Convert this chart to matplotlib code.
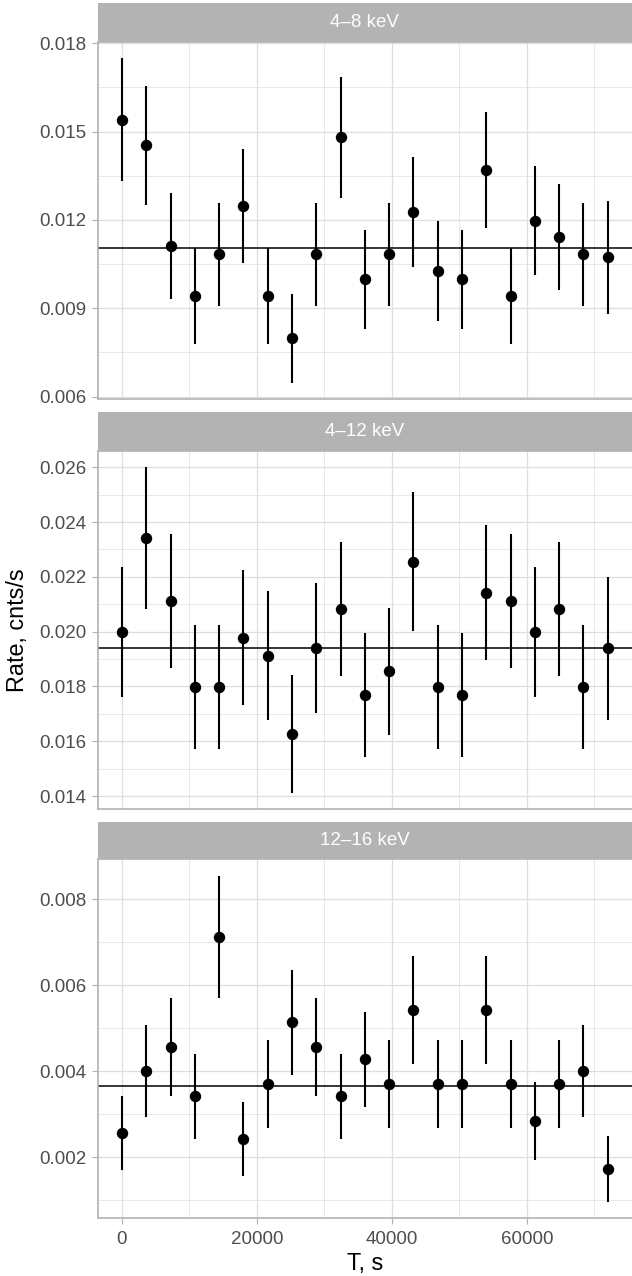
import matplotlib

matplotlib.use('Agg')
import matplotlib.pyplot as plt
from matplotlib.ticker import MultipleLocator, FormatStrFormatter

plt.rcParams['font.family'] = ['Liberation Sans', 'DejaVu Sans']

# time bins, s
time_s = [0, 3600, 7200, 10800, 14400, 18000, 21600, 25200, 28800, 32400, 36000,
          39600, 43200, 46800, 50400, 54000, 57600, 61200, 64800, 68400, 72000]

band_labels = ['4\u20138 keV', '4\u201312 keV', '12\u201316 keV']

rate_4_8 = [0.01540, 0.01453, 0.01112, 0.00941, 0.01083, 0.01247, 0.00941, 0.00798,
            0.01083, 0.01481, 0.00999, 0.01083, 0.01227, 0.01027, 0.00999, 0.01369,
            0.00941, 0.01198, 0.01141, 0.01083, 0.01073]
err_4_8 = [0.00209, 0.00203, 0.00179, 0.00164, 0.00175, 0.00194, 0.00164, 0.00151,
           0.00175, 0.00205, 0.00168, 0.00175, 0.00186, 0.00170, 0.00168, 0.00197,
           0.00164, 0.00184, 0.00180, 0.00175, 0.00191]
mean_4_8 = 0.01106

rate_4_12 = [0.01998, 0.02341, 0.02112, 0.01798, 0.01798, 0.01978, 0.01912, 0.01627,
             0.01939, 0.02084, 0.01768, 0.01855, 0.02256, 0.01798, 0.01768, 0.02142,
             0.02112, 0.01998, 0.02084, 0.01798, 0.01939]
err_4_12 = [0.00238, 0.00259, 0.00246, 0.00227, 0.00227, 0.00247, 0.00235, 0.00215,
            0.00237, 0.00245, 0.00226, 0.00231, 0.00254, 0.00227, 0.00226, 0.00247,
            0.00246, 0.00238, 0.00245, 0.00227, 0.00260]
mean_4_12 = 0.01941

rate_12_16 = [0.002564, 0.00400, 0.004567, 0.003418, 0.007135, 0.002432, 0.003713,
              0.005141, 0.004567, 0.003418, 0.004279, 0.003713, 0.005428, 0.003713,
              0.003713, 0.005428, 0.003713, 0.002851, 0.003713, 0.00400, 0.001734]
err_12_16 = [0.00086, 0.00107, 0.00114, 0.00099, 0.00142, 0.00086, 0.00103, 0.00122,
             0.00114, 0.00099, 0.00110, 0.00103, 0.00125, 0.00103, 0.00103, 0.00125,
             0.00103, 0.00090, 0.00103, 0.00107, 0.00077]
mean_12_16 = 0.003659

y_steps = [0.003, 0.002, 0.002]

W, H = 632, 1276
GREY70 = '#B3B3B3'
GREY87 = '#DEDEDE'
GREY30 = '#4D4D4D'

fig = plt.figure(figsize=(W / 100, H / 100), dpi=100)


def fx(px):
    return px / W


def fy(px):
    return 1 - px / H


left = 97.7
right = 632
# (strip top, strip bottom / panel top, panel bottom) in pixels from top
layout = [(3, 42, 399), (412.3, 451, 809), (822, 859.3, 1218.3)]
series = [(rate_4_8, err_4_8, mean_4_8),
          (rate_4_12, err_4_12, mean_4_12),
          (rate_12_16, err_12_16, mean_12_16)]

for i, ((s_top, p_top, p_bot), (rate, err, mean)) in enumerate(zip(layout, series)):
    ax = fig.add_axes([fx(left), fy(p_bot), fx(right - left), (p_bot - p_top) / H])
    ax.errorbar(time_s, rate, yerr=err, fmt='o', color='black', ms=7.2,
                elinewidth=1.5, capsize=0, zorder=3)
    ax.axhline(mean, color='black', lw=1.1, zorder=2)
    ax.margins(x=0.05, y=0.05)

    ax.xaxis.set_major_locator(MultipleLocator(20000))
    ax.xaxis.set_minor_locator(MultipleLocator(10000))
    ax.yaxis.set_major_locator(MultipleLocator(y_steps[i]))
    ax.yaxis.set_minor_locator(MultipleLocator(y_steps[i] / 2))
    ax.yaxis.set_major_formatter(FormatStrFormatter('%.3f'))

    ax.grid(which='major', color=GREY87, lw=0.9)
    ax.grid(which='minor', color=GREY87, lw=0.5)
    ax.set_axisbelow(True)
    for sp in ax.spines.values():
        sp.set_color(GREY70)
        sp.set_linewidth(1.2)
    ax.spines['right'].set_visible(False)  # sits on the image edge

    ax.tick_params(axis='y', which='major', length=4, width=0.8, color=GREY70,
                   labelcolor=GREY30, labelsize=13.5, pad=4.4)
    ax.tick_params(which='minor', length=0)
    if i < 2:
        ax.tick_params(axis='x', which='major', length=0, labelbottom=False)
    else:
        ax.tick_params(axis='x', which='major', length=4, width=0.8, color=GREY70,
                       labelcolor=GREY30, labelsize=13.5, pad=5)

    # facet strip
    sx = fig.add_axes([fx(left), fy(p_top), fx(right - left), (p_top - s_top) / H])
    sx.set_facecolor(GREY70)
    sx.set_xticks([])
    sx.set_yticks([])
    for sp in sx.spines.values():
        sp.set_visible(False)
    sx.text(0.5, 0.5, band_labels[i], transform=sx.transAxes, ha='center',
            va='center', color='white', fontsize=13.5)

fig.text(fx(17.5), fy(630), 'Rate, cnts/s', rotation=90, ha='center', va='center',
         fontsize=16.8, color='black')
fig.text(fx(365), fy(1270), 'T, s', ha='center', va='baseline', fontsize=16.8,
         color='black')

fig.savefig('out.png', dpi=100)
plt.close()
